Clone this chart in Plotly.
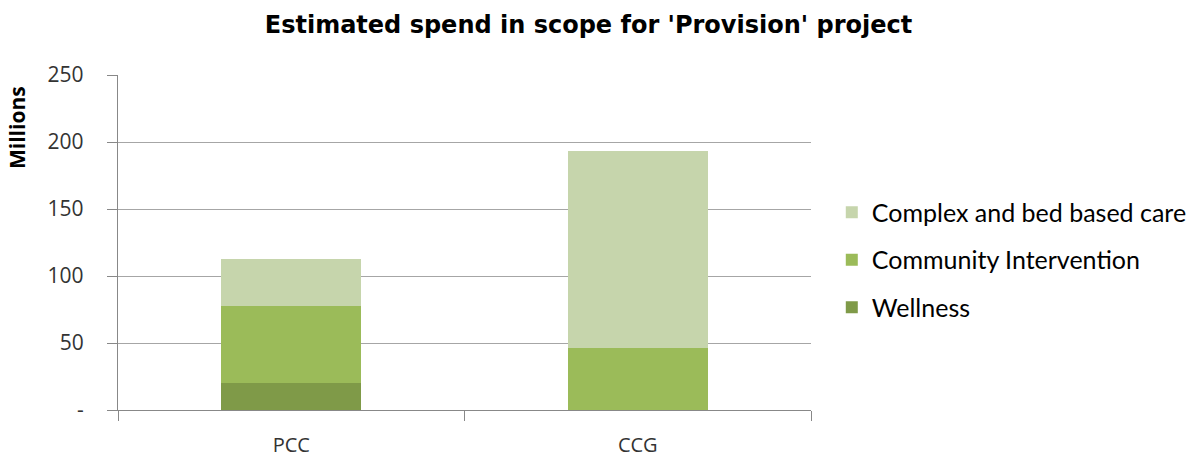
import plotly.graph_objects as go

categories = ["PCC", "CCG"]
wellness = [20.4, 0]
community = [57.4, 46.0]
complex_care = [34.7, 147.1]

series_names = ["Wellness", "Community Intervention", "Complex and bed based care"]
colors = ["#7F9A48", "#9BBB59", "#C6D5AC"]
legend_ranks = [3, 2, 1]

y_tickvals = [0, 50, 100, 150, 200, 250]
y_ticktext = ["-", "50", "100", "150", "200", "250"]

fig = go.Figure()
for name, vals, col, rank in zip(series_names, [wellness, community, complex_care], colors, legend_ranks):
    fig.add_trace(go.Bar(x=categories, y=vals, name=name, marker=dict(color=col, line=dict(width=0)),
                         legendgroup=name, legendrank=rank))

tick_font = dict(family="Open Sans, sans-serif", size=21, color="#333333")

fig.update_layout(
    barmode="stack",
    bargap=0.595,
    width=1193, height=457,
    margin=dict(l=118, r=382, t=75, b=47, autoexpand=False),
    paper_bgcolor="white", plot_bgcolor="white",
    title=dict(text="<b>Estimated spend in scope for 'Provision' project</b>",
               x=0.4933, xanchor="center", y=0.947, yanchor="middle",
               font=dict(family="DejaVu Sans, sans-serif", size=24, color="black")),
    legend=dict(traceorder="grouped", x=1.03, xanchor="left", y=0.448, yanchor="middle",
                font=dict(family="Lato, sans-serif", size=25, color="black"),
                tracegroupgap=12, bgcolor="rgba(0,0,0,0)"),
    showlegend=True,
    annotations=[dict(text="<b>Millions</b>", textangle=-90, xref="paper", yref="paper",
                      x=-(118 - 17) / 693, y=(410 - 128) / 335, xanchor="center", yanchor="middle",
                      showarrow=False,
                      font=dict(family="Open Sans, sans-serif", size=21, color="black"))],
)
fig.update_yaxes(range=[0, 250], tickvals=y_tickvals, ticktext=y_ticktext,
                 showgrid=True, gridcolor="#A6A6A6", gridwidth=1.3,
                 showline=True, linecolor="#888888", linewidth=1.3,
                 ticks="outside", ticklen=10, tickcolor="#888888", automargin=False,
                 ticklabelstandoff=19, tickfont=tick_font, zeroline=False)
fig.update_xaxes(showline=True, linecolor="#888888", linewidth=1.3,
                 ticks="outside", ticklen=10, tickcolor="#888888", tickson="boundaries",
                 automargin=False,
                 ticklabelstandoff=17, tickfont=dict(family="Open Sans, sans-serif", size=20, color="#333333"),
                 showgrid=False)

fig.write_html("out.html")
